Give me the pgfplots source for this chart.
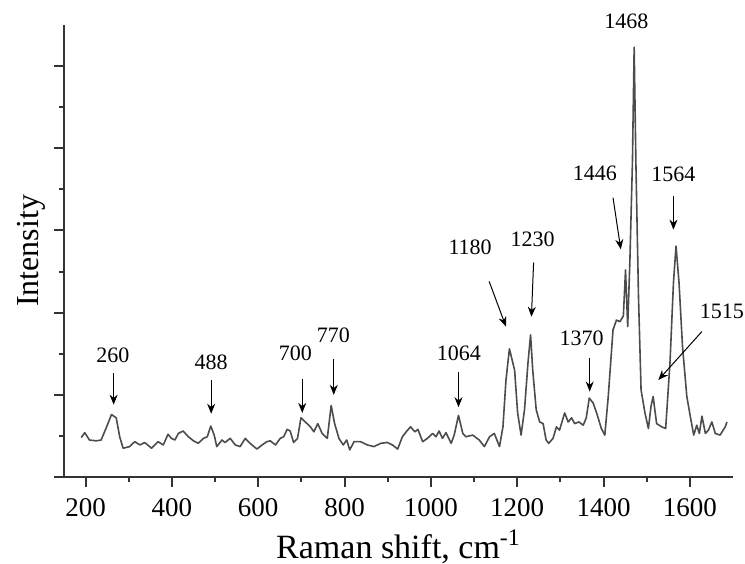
\documentclass[border=0pt]{standalone}
\usepackage{fontspec}
\setmainfont{Liberation Serif}
\usepackage{pgfplots}
\pgfplotsset{compat=1.18}
\usetikzlibrary{arrows.meta}

\begin{document}
\begin{tikzpicture}
% page = 745x563 px, 1 px = 0.5pt, axis corner at px (64,477)
\useasboundingbox (-32pt,-43pt) rectangle (340.5pt,238.5pt);
\begin{axis}[
    at={(0,0)}, anchor=south west,
    scale only axis,
    width=334.5pt, height=226pt,
    xmin=150, xmax=1700,
    ymin=0, ymax=5.5,
    axis lines*=left,
    axis line style={-, line width=1.2pt, black!80},
    xtick={200,400,...,1600},
    minor x tick num=1,
    ytick={0,1,...,5},
    minor ytick={0.5,1.5,...,4.5},
    yticklabels={},
    tick align=outside,
    major tick length=5pt,
    minor tick length=2.5pt,
    tick style={line width=1pt, black!80},
    /pgf/number format/assume math mode=true,
    /pgf/number format/set thousands separator={},
    xticklabel style={font=\fontsize{13.5}{15}\selectfont, yshift=-2pt},
    xlabel={Raman shift, cm\textsuperscript{-1}},
    ylabel={Intensity},
    xlabel style={font=\fontsize{17}{19}\selectfont, yshift=0pt},
    ylabel style={font=\fontsize{16}{18}\selectfont, yshift=-6pt},
    clip=false,
]
\addplot[black!70, line width=0.8pt, line join=round] coordinates {
(190,0.48)(198,0.54)(209,0.45)(225,0.44)(236,0.45)(248,0.60)(260,0.76)(271,0.72)
(279,0.49)(287,0.35)(302,0.37)(314,0.43)(326,0.39)(337,0.42)(353,0.35)(368,0.43)
(380,0.39)(391,0.52)(399,0.47)(407,0.45)(415,0.53)(426,0.56)(438,0.49)(450,0.44)
(461,0.41)(473,0.47)(482,0.49)(490,0.62)(498,0.51)(504,0.37)(516,0.45)(523,0.42)
(535,0.47)(547,0.39)(558,0.37)(570,0.47)(581,0.41)(597,0.34)(609,0.39)(620,0.43)
(628,0.44)(640,0.39)(651,0.47)(659,0.49)(667,0.58)(674,0.56)(682,0.42)(691,0.47)
(699,0.72)(709,0.67)(721,0.61)(729,0.55)(738,0.65)(748,0.53)(760,0.47)(769,0.87)
(777,0.65)(787,0.47)(797,0.39)(805,0.45)(812,0.33)(822,0.43)(837,0.43)(853,0.39)
(868,0.37)(884,0.41)(899,0.42)(911,0.39)(923,0.34)(934,0.49)(946,0.57)(953,0.61)
(963,0.55)(970,0.58)(981,0.43)(992,0.47)(1004,0.53)(1012,0.49)(1019,0.56)(1027,0.47)
(1035,0.54)(1047,0.41)(1054,0.51)(1064,0.75)(1074,0.53)(1081,0.49)(1097,0.51)(1112,0.45)
(1124,0.37)(1136,0.49)(1147,0.53)(1159,0.37)(1167,0.61)(1174,1.18)(1182,1.56)(1194,1.30)
(1201,0.78)(1209,0.51)(1217,0.82)(1225,1.39)(1231,1.73)(1236,1.30)(1244,0.82)(1252,0.67)
(1260,0.65)(1267,0.45)(1273,0.41)(1283,0.47)(1291,0.61)(1298,0.57)(1310,0.78)(1318,0.67)
(1326,0.72)(1333,0.65)(1343,0.67)(1353,0.63)(1360,0.72)(1367,0.96)(1376,0.90)(1384,0.78)
(1395,0.59)(1403,0.51)(1411,0.98)(1422,1.79)(1430,1.91)(1438,1.89)(1446,1.96)(1451,2.52)
(1456,1.83)(1461,2.61)(1467,3.83)(1471,5.23)(1475,3.83)(1481,2.20)(1487,1.06)(1496,0.78)
(1504,0.59)(1510,0.86)(1515,0.98)(1523,0.65)(1535,0.61)(1544,0.59)(1554,1.39)(1562,2.36)
(1568,2.81)(1575,2.36)(1583,1.59)(1593,0.98)(1601,0.74)(1609,0.51)(1616,0.63)(1622,0.53)
(1628,0.74)(1636,0.53)(1643,0.57)(1651,0.67)(1659,0.53)(1670,0.51)(1682,0.61)(1686,0.67)
};

% peak labels and arrows
\tikzset{
  lab/.style={font=\fontsize{11}{13}\selectfont, inner sep=0pt},
  arr/.style={line width=0.5pt, -{Stealth[length=5pt,width=4pt]}},
}
\node[lab] at (axis cs:263,1.48) {260};
\draw[arr] (axis cs:265,1.26) -- (axis cs:265,0.88);
\node[lab] at (axis cs:491,1.40) {488};
\draw[arr] (axis cs:491,1.18) -- (axis cs:491,0.77);
\node[lab] at (axis cs:686,1.51) {700};
\draw[arr] (axis cs:702,1.19) -- (axis cs:702,0.78);
\node[lab] at (axis cs:774,1.73) {770};
\draw[arr] (axis cs:775,1.43) -- (axis cs:775,1.00);
\node[lab] at (axis cs:1065,1.51) {1064};
\draw[arr] (axis cs:1064,1.28) -- (axis cs:1064,0.85);
\node[lab] at (axis cs:1091,2.80) {1180};
\draw[arr] (axis cs:1135,2.38) -- (axis cs:1174,1.83);
\node[lab] at (axis cs:1236,2.89) {1230};
\draw[arr] (axis cs:1238,2.61) -- (axis cs:1233,1.95);
\node[lab] at (axis cs:1349,1.69) {1370};
\draw[arr] (axis cs:1368,1.45) -- (axis cs:1368,1.04);
\node[lab] at (axis cs:1380,3.70) {1446};
\draw[arr] (axis cs:1422,3.40) -- (axis cs:1440,2.77);
\node[lab] at (axis cs:1453,5.55) {1468};
\node[lab] at (axis cs:1562,3.68) {1564};
\draw[arr] (axis cs:1562,3.42) -- (axis cs:1562,3.01);
\node[lab] at (axis cs:1674,2.02) {1515};
\draw[arr] (axis cs:1628,1.77) -- (axis cs:1527,1.18);
\end{axis}
\end{tikzpicture}
\end{document}
